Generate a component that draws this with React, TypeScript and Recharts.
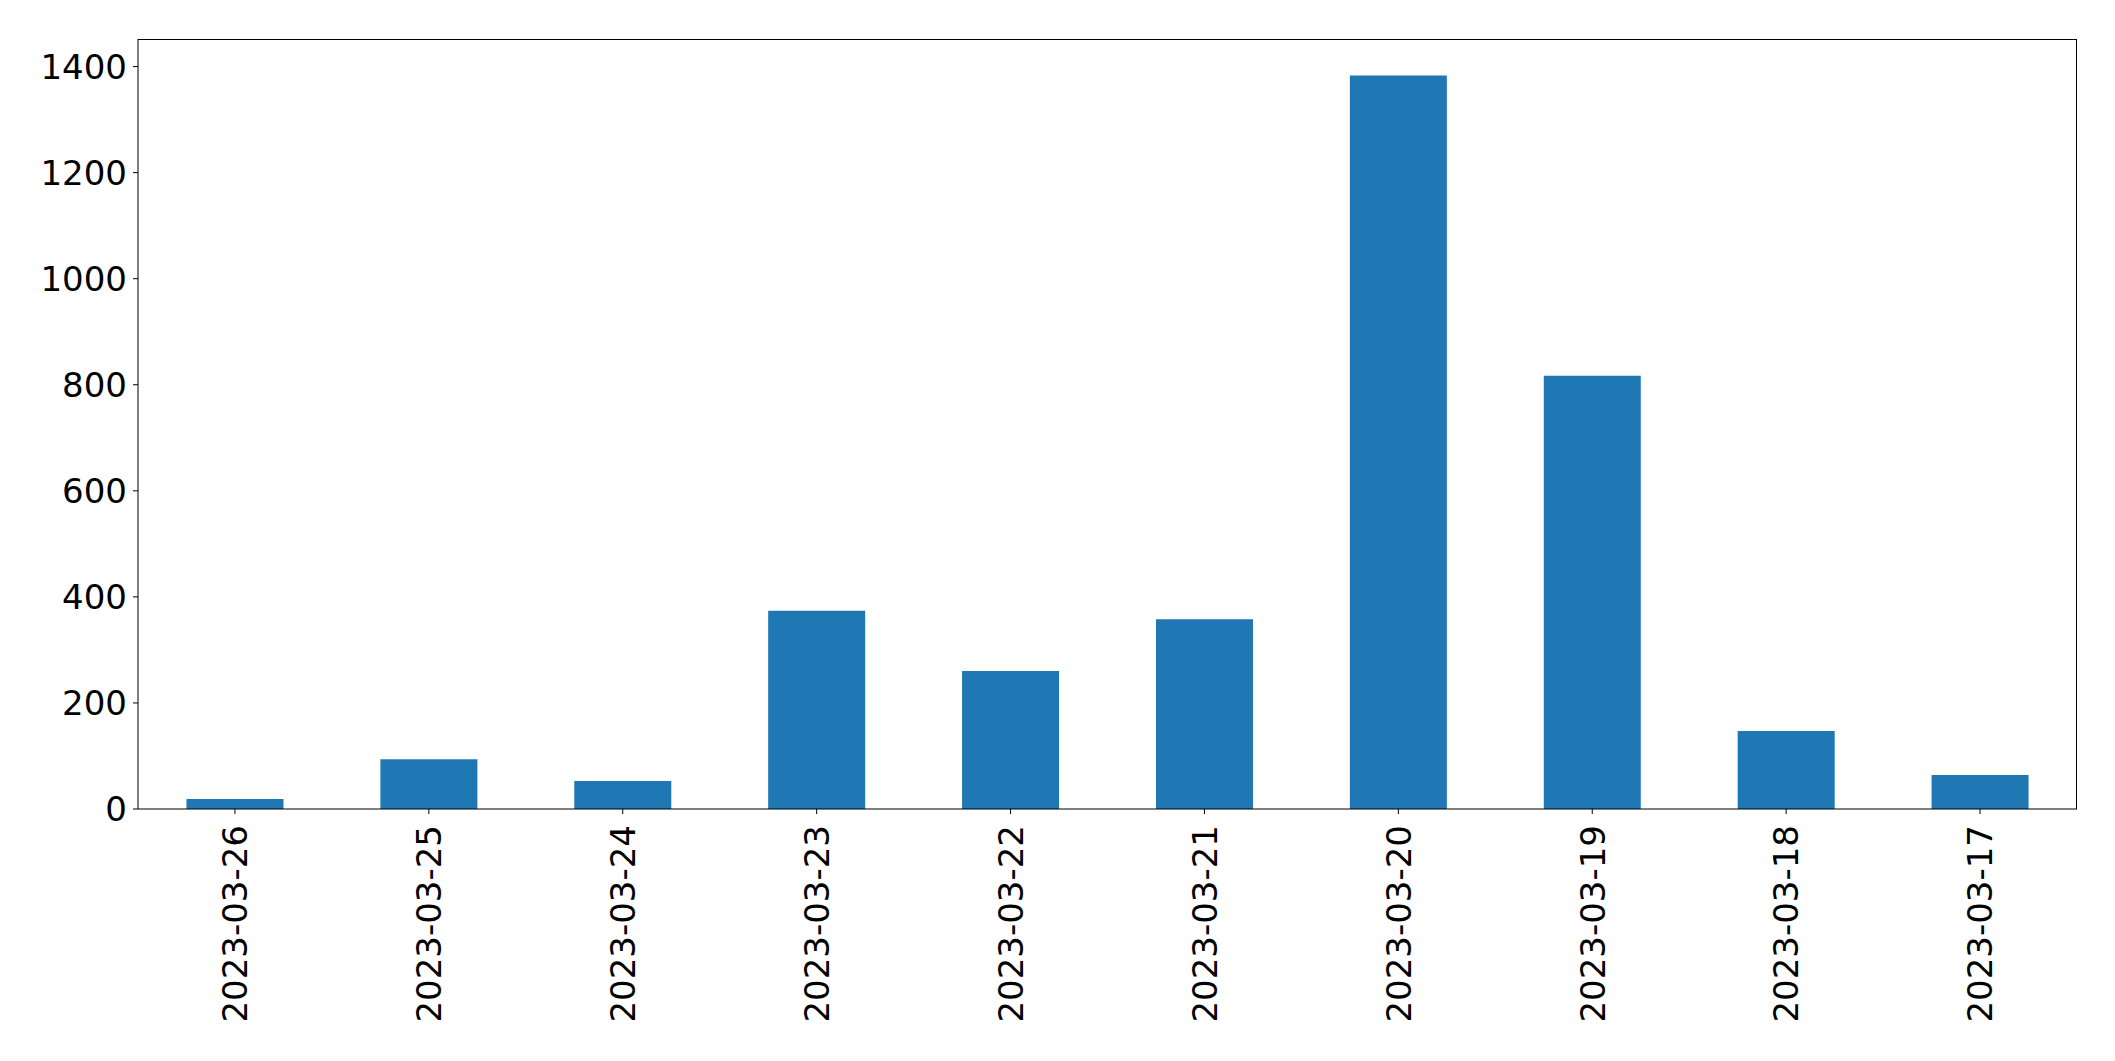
import React from 'react';
import { BarChart, Bar, XAxis, YAxis } from 'recharts';

const dates = [
  '2023-03-26', '2023-03-25', '2023-03-24', '2023-03-23', '2023-03-22',
  '2023-03-21', '2023-03-20', '2023-03-19', '2023-03-18', '2023-03-17',
];
const counts = [19, 94, 53, 374, 260, 358, 1383, 817, 147, 64];
const yTicks = [0, 200, 400, 600, 800, 1000, 1200, 1400];

const data = dates.map((d, i) => ({ date: d, count: counts[i] }));

const W = 2115;
const H = 1061;
const LEFT = 138;
const TOP = 39;
const RIGHT = 38;
const BOTTOM = 252;
const FONT = '"DejaVu Sans", sans-serif';

function DateTick(props: any) {
  const { x, y, payload } = props;
  return (
    <g transform={`translate(${x},${y})`}>
      <text
        transform="rotate(-90)"
        textAnchor="end"
        dy="0.36em"
        fontSize={34}
        fontFamily={FONT}
        fill="#000"
      >
        {payload.value}
      </text>
    </g>
  );
}

export default function App() {
  return (
    <div style={{ position: 'absolute', left: 0, top: 0, width: W, height: H, background: '#fff' }}>
      <BarChart
        width={W}
        height={H}
        data={data}
        margin={{ top: TOP, right: RIGHT, bottom: 0, left: 0 }}
        barCategoryGap="25%"
      >
        <XAxis
          dataKey="date"
          height={BOTTOM}
          interval={0}
          tickSize={5}
          tickMargin={11}
          tick={<DateTick />}
          stroke="#000"
          tickLine={{ stroke: '#000' }}
        />
        <YAxis
          width={LEFT}
          domain={[0, 1452]}
          ticks={yTicks}
          tickSize={5}
          tickMargin={6}
          stroke="#000"
          tick={{ fontSize: 34, fontFamily: FONT, fill: '#000' }}
          allowDataOverflow
        />
        <Bar dataKey="count" fill="#1f77b4" isAnimationActive={false} />
      </BarChart>
      <div
        style={{
          position: 'absolute',
          left: LEFT,
          top: TOP,
          width: W - LEFT - RIGHT,
          height: H - TOP - BOTTOM,
          borderTop: '1px solid #000',
          borderRight: '1px solid #000',
          boxSizing: 'border-box',
          pointerEvents: 'none',
        }}
      />
    </div>
  );
}
